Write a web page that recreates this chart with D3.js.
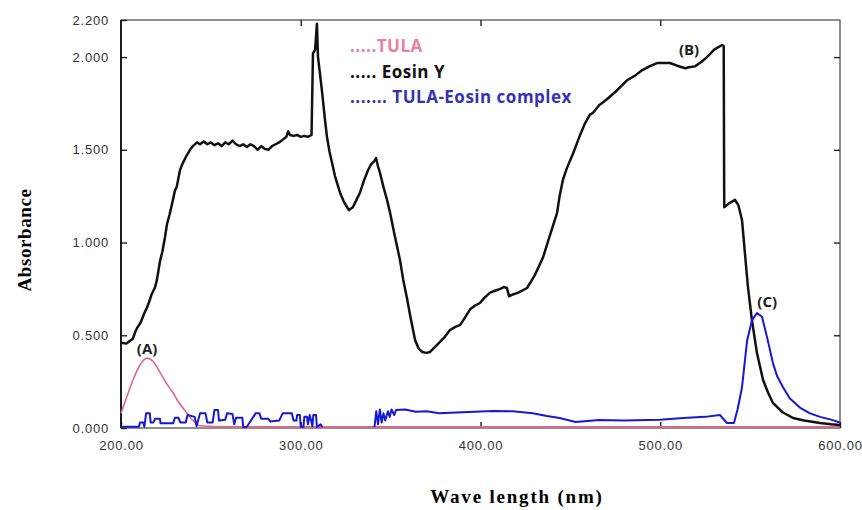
<!DOCTYPE html>
<html>
<head>
<meta charset="utf-8">
<script src="https://cdn.jsdelivr.net/npm/d3@7"></script>
<style>
  body { margin: 0; background: #fff; }
  svg { display: block; }
</style>
</head>
<body>
<div id="chart"></div>
<script>
// wavelength (nm) and absorbance
const eosinNm = [200,203,205,206.5,208,209,211,213,214.5,216,217,219,220,221.7,223,224.5,225.6,227,228.9,230,231,232.8,234,236,238.4,240,242.3,244,246,248,250,252,254,256,258,260,262,264,266,268,270,272,274,276,278,280,282,284,286,288,290,292,293,294,296,298,300,302,304,306,306.8,308,309,309.6,310.7,312,313.5,314.6,316,317.4,319,321.8,324,326.8,329,331,333,335,337.4,339,341,341.9,343,344.1,346,348,349.7,352,355.2,357,359.1,361,363.6,365.5,367.5,370,371.9,375,378,380,383,386,388.6,391,394.2,397,399.7,402,405.3,408,411,413,414.7,415.9,418,421,425.9,430,434.8,438,442.6,444,445.9,448,451.5,455,458,460.9,462.6,466,470,475.9,481.5,486,490,494,498.2,505.4,509,513.8,516,519.3,523,526,530,534.4,535.3,535.6,538,541.6,543.5,545.5,547.1,548.8,551,553.8,557.2,560,562.7,568,573.9,580,588.9,595,600];
const eosinAbs = [0.46,0.455,0.47,0.48,0.52,0.54,0.57,0.62,0.65,0.69,0.72,0.76,0.80,0.90,0.95,1.03,1.10,1.15,1.23,1.28,1.30,1.39,1.42,1.46,1.50,1.52,1.54,1.53,1.545,1.53,1.54,1.525,1.535,1.52,1.54,1.53,1.55,1.53,1.52,1.53,1.515,1.53,1.52,1.50,1.52,1.505,1.50,1.52,1.53,1.54,1.555,1.57,1.60,1.58,1.575,1.58,1.57,1.575,1.57,1.58,2.02,2.04,2.18,2.00,1.91,1.80,1.66,1.57,1.49,1.43,1.36,1.27,1.22,1.175,1.19,1.23,1.27,1.33,1.39,1.42,1.44,1.455,1.41,1.375,1.30,1.23,1.16,1.05,0.906,0.80,0.70,0.60,0.474,0.43,0.41,0.405,0.41,0.44,0.47,0.49,0.528,0.545,0.555,0.59,0.64,0.66,0.674,0.70,0.73,0.74,0.75,0.76,0.755,0.71,0.72,0.73,0.755,0.82,0.92,1.02,1.16,1.25,1.34,1.40,1.48,1.57,1.64,1.69,1.70,1.74,1.77,1.82,1.875,1.90,1.93,1.95,1.968,1.968,1.955,1.94,1.945,1.95,1.975,2.00,2.04,2.065,2.06,1.19,1.21,1.23,1.20,1.12,0.943,0.76,0.582,0.404,0.259,0.19,0.135,0.085,0.054,0.04,0.027,0.02,0.016];

const tulaNm = [200,203.3,206.7,210.6,214.5,217.8,221.7,225,228.9,232,236.7,240.1,244,260,300,350,400,450,500,550,600];
const tulaAbs = [0.08,0.17,0.26,0.34,0.377,0.36,0.30,0.245,0.19,0.14,0.08,0.04,0.012,0.007,0.006,0.006,0.006,0.006,0.006,0.006,0.006];

// null = gap in the complex trace
const complexNm = [200,210,210.6,212.4,213,214,216,216.5,218,219,221.7,222,229,230,232,233,236,237,241,242,244,247,248,251,252,254,254.5,258,259,262,263,264,267.5,268,270,275,277,278,282,283,288,290,295,296,297.6,298,299.5,300,301.5,302,303.5,304,305,306.5,307,308.5,309,311,312,313,341,342,343,344,345,346,347,348.5,349.5,350.5,352,353,358,364,370,377,390,407,418,429,437,444,453,466,480,500,512.7,525,533.2,535,537.1,541,543,545.5,548.3,551,553.8,556.6,559.4,562.7,565,568.3,572,577.7,583,588.9,595,600];
const complexAbs = [0.007,0.007,0.03,0.03,0.007,0.08,0.08,0.03,0.03,0.05,0.05,0.025,0.025,0.055,0.055,0.03,0.03,0.07,0.06,0.01,0.08,0.08,0.03,0.03,0.097,0.097,0.04,0.045,0.08,0.075,0.02,0.055,0.055,0.005,0.007,0.08,0.08,0.05,0.05,0.035,0.04,0.08,0.08,0.04,0.04,0.07,0.07,0.007,0.007,0.06,0.06,0.02,0.07,0.01,0.07,0.07,0.005,0.02,0.005,null,0.005,0.09,0.02,0.10,0.03,0.08,0.04,0.09,0.06,0.10,0.07,0.097,0.10,0.088,0.09,0.08,0.085,0.092,0.09,0.08,0.065,0.054,0.032,0.043,0.04,0.045,0.054,0.06,0.07,0.05,0.027,0.027,0.10,0.22,0.47,0.58,0.62,0.60,0.49,0.35,0.28,0.22,0.16,0.11,0.08,0.06,0.045,0.03];

const xTicks = [200, 300, 400, 500, 600];
const yTicks = [0, 0.5, 1, 1.5, 2, 2.2];

const legendLabels = [".....TULA", "..... Eosin Y", "....... TULA-Eosin complex"];
const peakLabels = ["(A)", "(B)", "(C)"];
const peakNm = [214.5, 516, 559.5];
const peakAbs = [0.40, 2.01, 0.652];

const width = 862, height = 510;
const margin = {top: 20, right: 22, bottom: 82, left: 121};

let svg = d3.select("#chart")
    .append("svg")
        .attr("width", width)
        .attr("height", height);

let x = d3.scaleLinear().domain([200, 600]).range([margin.left, width - margin.right]);
let y = d3.scaleLinear().domain([0, 2.2]).range([height - margin.bottom, margin.top]);

//frame
svg.append("rect")
    .attr("x", x(200))
    .attr("y", y(2.2))
    .attr("width", x(600) - x(200))
    .attr("height", y(0) - y(2.2))
    .attr("fill", "none")
    .attr("stroke", "#444")
    .attr("stroke-width", 1.2);

let tickFont = function(g) {
    g.select(".domain").remove();
    g.selectAll("line").attr("stroke", "#222").attr("stroke-width", 1.4);
    g.selectAll("text")
        .style("font-family", "'Liberation Sans', Arial, sans-serif")
        .style("font-size", "13px")
        .style("letter-spacing", "0.8px")
        .attr("fill", "#333");
};

//bottom axis, ticks point inward
svg.append("g")
    .attr("transform", `translate(0, ${y(0)})`)
    .call(d3.axisBottom(x).tickValues(xTicks).tickFormat(d3.format(".2f")).tickSizeInner(-6).tickSizeOuter(0).tickPadding(13))
    .call(tickFont);

svg.append("g")
    .attr("transform", `translate(0, ${y(2.2)})`)
    .call(d3.axisTop(x).tickValues([300, 400, 500]).tickFormat("").tickSizeInner(-6).tickSizeOuter(0))
    .call(tickFont);

svg.append("g")
    .attr("transform", `translate(${x(200)}, 0)`)
    .call(d3.axisLeft(y).tickValues(yTicks).tickFormat(d3.format(".3f")).tickSizeInner(-6).tickSizeOuter(0).tickPadding(12))
    .call(tickFont);

svg.append("g")
    .attr("transform", `translate(${x(600)}, 0)`)
    .call(d3.axisRight(y).tickValues([0.5, 1, 1.5, 2]).tickFormat("").tickSizeInner(-6).tickSizeOuter(0))
    .call(tickFont);

//left axis line a bit heavier
svg.append("line")
    .attr("x1", x(200)).attr("x2", x(200))
    .attr("y1", y(0)).attr("y2", y(2.2))
    .attr("stroke", "#111")
    .attr("stroke-width", 1.8);

let series = [
    {nm: tulaNm, abs: tulaAbs, color: "#e2648f", w: 1.6, curve: d3.curveMonotoneX},
    {nm: eosinNm, abs: eosinAbs, color: "#111111", w: 2.5, curve: d3.curveLinear},
    {nm: complexNm, abs: complexAbs, color: "#1717d6", w: 2, curve: d3.curveLinear}
];

series.forEach(function(s) {
    let line = d3.line()
        .defined(d => d[1] !== null)
        .x(d => x(d[0]))
        .y(d => y(d[1]))
        .curve(s.curve);
    svg.append("path")
        .datum(d3.zip(s.nm, s.abs))
        .attr("d", line)
        .attr("fill", "none")
        .attr("stroke", s.color)
        .attr("stroke-width", s.w)
        .attr("stroke-linejoin", "round");
});

//legend
let legendColors = ["#ea7fa3", "#111111", "#3333b3"];
svg.append("g")
    .selectAll("text")
    .data(legendLabels)
    .enter()
    .append("text")
        .attr("x", 350)
        .attr("y", (d, i) => 52 + i * 25.5)
        .attr("fill", (d, i) => legendColors[i])
        .style("font-family", "'Open Sans', sans-serif")
        .style("font-weight", "bold")
        .style("font-size", "17px")
        .style("letter-spacing", "0.5px")
        .text(d => d);

//peak annotations
svg.append("g")
    .selectAll("text")
    .data(peakLabels)
    .enter()
    .append("text")
        .attr("x", (d, i) => x(peakNm[i]))
        .attr("y", (d, i) => y(peakAbs[i]))
        .attr("text-anchor", "middle")
        .attr("fill", "#222")
        .style("font-family", "'Open Sans', sans-serif")
        .style("font-weight", "bold")
        .style("font-size", "15px")
        .text(d => d);

//axis titles
svg.append("text")
    .attr("x", 517)
    .attr("y", 503)
    .attr("text-anchor", "middle")
    .style("font-family", "'Liberation Serif', 'Times New Roman', serif")
    .style("font-weight", "bold")
    .style("font-size", "19px")
    .style("letter-spacing", "1.8px")
    .text("Wave length (nm)");

svg.append("text")
    .attr("transform", "translate(31, 240) rotate(-90)")
    .attr("text-anchor", "middle")
    .style("font-family", "'Liberation Serif', 'Times New Roman', serif")
    .style("font-weight", "bold")
    .style("font-size", "19px")
    .style("letter-spacing", "0.6px")
    .text("Absorbance");
</script>
</body>
</html>
